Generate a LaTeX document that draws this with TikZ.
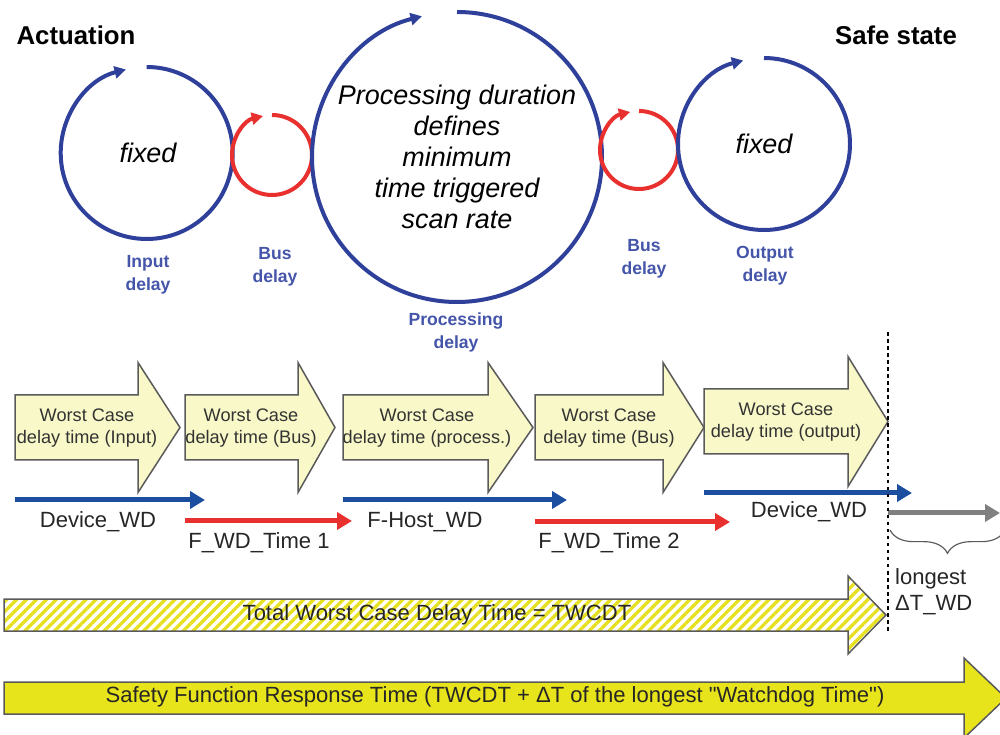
\documentclass[tikz,border=0pt]{standalone}
\usepackage{fontspec}
\setmainfont{Liberation Sans}
\usetikzlibrary{arrows.meta,patterns.meta,decorations.pathreplacing}

\definecolor{ringblue}{HTML}{2E409A}
\definecolor{labelblue}{HTML}{4455AA}
\definecolor{wdblue}{HTML}{1B4E9E}
\definecolor{wdred}{HTML}{E8312F}
\definecolor{wdgray}{HTML}{808080}
\definecolor{boxfill}{HTML}{F8F8C8}
\definecolor{boxline}{HTML}{5A5A5A}
\definecolor{safeyellow}{HTML}{E8E41C}
\definecolor{hatchyellow}{HTML}{E6E020}
\definecolor{txtgray}{HTML}{333333}

% fat arrow: [style] x-start, x-head, x-tip, y-mid, body half, head half
\newcommand{\fatarrow}[7][]{%
  \draw[#1] (#2,#5-#6) -- (#3,#5-#6) -- (#3,#5-#7) -- (#4,#5)
    -- (#3,#5+#7) -- (#3,#5+#6) -- (#2,#5+#6) -- cycle;}

\begin{document}
\begin{tikzpicture}[x=0.3mm,y=-0.3mm,
    ring/.style={line width=1.2mm,-{Triangle[length=3.4mm,width=3.6mm]}},
    ringtext/.style={font=\fontsize{23}{26.5}\selectfont\itshape,align=center},
    ringlabel/.style={font=\fontsize{15}{19.6}\selectfont\bfseries,text=labelblue,align=center},
    title/.style={font=\fontsize{22}{26}\selectfont\bfseries},
    wcbox/.style={fill=boxfill,draw=boxline,line width=0.45mm},
    wctext/.style={font=\fontsize{15.5}{18.8}\selectfont,text=txtgray,align=center},
    wdline/.style={line width=1.5mm,-{Triangle[length=4.5mm,width=5.1mm]}},
    wdtext/.style={font=\fontsize{18.8}{22}\selectfont,text=black!85},
    hatchbox/.style={pattern={Lines[angle=45,distance=2.1mm,line width=1mm]},
      pattern color=hatchyellow,draw=boxline,line width=0.45mm},
    safebox/.style={fill=safeyellow,draw=boxline,line width=0.45mm},
    bartext/.style={font=\fontsize{18.8}{22}\selectfont,text=black!85}]

    \useasboundingbox (0,0) rectangle (1000,735);
    \clip (0,0) rectangle (1000,735);

    % titles
    \node[title] (act) at (76,35) {Actuation};
    \node[title] (safe) at (896,35) {Safe state};

    % delay rings
    \draw[ring,ringblue] (146.7,153) ++(90:25.8mm) arc[start angle=90,end angle=-256,radius=25.8mm];
    \draw[ring,wdred] (272,155) ++(90:12mm) arc[start angle=90,end angle=-257,radius=12mm];
    \draw[ring,ringblue] (457,157) ++(90:43.5mm) arc[start angle=90,end angle=-256,radius=43.5mm];
    \draw[ring,wdred] (639,150) ++(90:11.7mm) arc[start angle=90,end angle=-257,radius=11.7mm];
    \draw[ring,ringblue] (764,144) ++(90:25.8mm) arc[start angle=90,end angle=-256,radius=25.8mm];

    \node[ringtext] (fixin) at (148,153) {fixed};
    \node[ringtext] (proc) at (457,156.5) {Processing duration\\defines\\minimum\\time triggered\\scan rate};
    \node[ringtext] (fixout) at (764,144) {fixed};

    \node[ringlabel] (lin) at (148,275) {Input\\delay};
    \node[ringlabel] (lbus1) at (275,267) {Bus\\delay};
    \node[ringlabel] (lproc) at (456,332) {Processing\\delay};
    \node[ringlabel] (lbus2) at (644,259) {Bus\\delay};
    \node[ringlabel] (lout) at (765,266) {Output\\delay};

    % worst case arrows
    \fatarrow[wcbox]{15}{138}{180}{427.5}{32.5}{65}
    \fatarrow[wcbox]{185}{298}{335}{427.5}{32.5}{65}
    \fatarrow[wcbox]{343}{488}{533}{427.5}{32.5}{65}
    \fatarrow[wcbox]{535}{663}{704}{427.5}{32.5}{65}
    \fatarrow[wcbox]{704}{848}{888}{421.5}{32.5}{65}

    \node[wctext] (wcin) at (87,428) {Worst Case\\delay time (Input)};
    \node[wctext] (wcbus1) at (251,428) {Worst Case\\delay time (Bus)};
    \node[wctext] (wcproc) at (427,428) {Worst Case\\delay time (process.)};
    \node[wctext] (wcbus2) at (609,428) {Worst Case\\delay time (Bus)};
    \node[wctext] (wcout) at (786,422) {Worst Case\\delay time (output)};

    % watchdog times
    \coordinate (d1s) at (15,500);  \coordinate (d1e) at (205,500);
    \coordinate (t1s) at (185,521); \coordinate (t1e) at (352,521);
    \coordinate (hs) at (343,500);  \coordinate (he) at (567,500);
    \coordinate (t2s) at (535,522); \coordinate (t2e) at (730,522);
    \coordinate (d2s) at (704,493); \coordinate (d2e) at (912,493);
    \coordinate (gs) at (888,513);  \coordinate (ge) at (1000,513);

    \draw[wdline,wdblue] (d1s) -- (d1e);
    \draw[wdline,wdred] (t1s) -- (t1e);
    \draw[wdline,wdblue] (hs) -- (he);
    \draw[wdline,wdred] (t2s) -- (t2e);
    \draw[wdline,wdblue] (d2s) -- (d2e);
    \draw[wdline,wdgray] (gs) -- (ge);

    \node[wdtext] (wd1) at (98,522) {Device\_WD};
    \node[wdtext] (ft1) at (259,543) {F\_WD\_Time 1};
    \node[wdtext] (fh) at (425,522) {F-Host\_WD};
    \node[wdtext] (ft2) at (609,543) {F\_WD\_Time 2};
    \node[wdtext] (wd2) at (809,512) {Device\_WD};

    \draw[decorate,decoration={brace,mirror,amplitude=7mm,aspect=0.5},
      draw=boxline,line width=0.35mm] (890,530) -- (1005,530);
    \node[wdtext,anchor=west,align=left,inner sep=0pt] (lng) at (895,592) {longest\\ΔT\_WD};

    % totals
    \fatarrow[hatchbox]{4}{848}{886}{615}{16}{39}
    \node[bartext] (tw) at (437,615) {Total Worst Case Delay Time = TWCDT};

    \fatarrow[safebox]{4}{964}{1006}{698}{16}{40}
    \node[bartext] (sf) at (495,697) {Safety Function Response Time (TWCDT + ΔT of the longest \textquotedbl Watchdog Time\textquotedbl)};

    \coordinate (cut1) at (888,332);
    \coordinate (cut2) at (888,632);
    \draw[dashed,line width=0.35mm] (cut1) -- (cut2);
\end{tikzpicture}
\end{document}
